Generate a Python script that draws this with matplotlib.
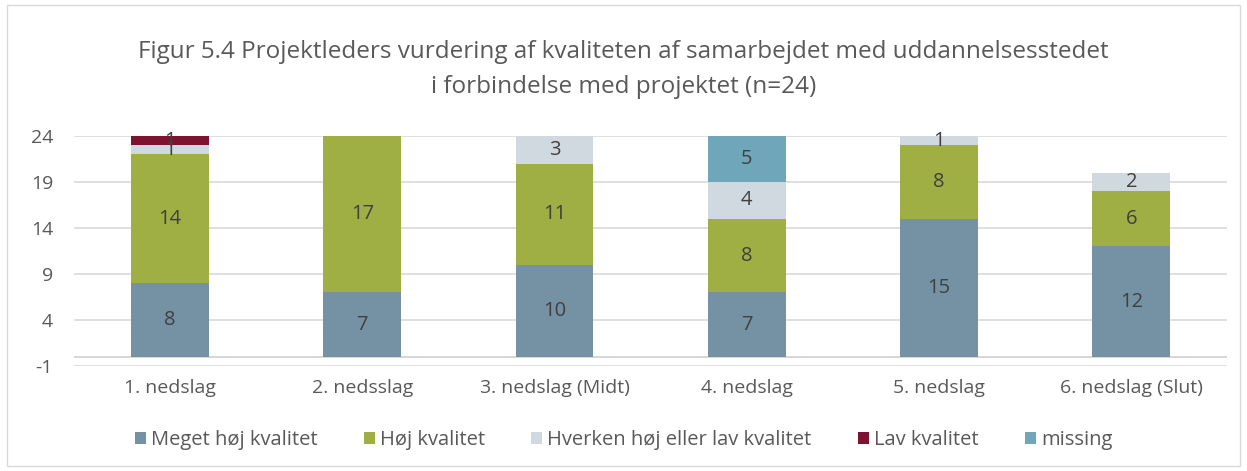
import numpy as np
import matplotlib.pyplot as plt
from matplotlib.patches import Rectangle

plt.rcParams['font.family'] = ['Open Sans', 'DejaVu Sans']
plt.rcParams['axes.unicode_minus'] = False

# --- data ---
categories = ["1. nedslag", "2. nedsslag", "3. nedslag (Midt)", "4. nedslag",
              "5. nedslag", "6. nedslag (Slut)"]
meget_hoej = [8, 7, 10, 7, 15, 12]
hoej = [14, 17, 11, 8, 8, 6]
hverken = [1, 0, 3, 4, 1, 2]
lav = [1, 0, 0, 0, 0, 0]
missing = [0, 0, 0, 5, 0, 0]

series = [
    ("Meget høj kvalitet", meget_hoej, "#7591A4"),
    ("Høj kvalitet", hoej, "#9FAF43"),
    ("Hverken høj eller lav kvalitet", hverken, "#D0D9E0"),
    ("Lav kvalitet", lav, "#7E1331"),
    ("missing", missing, "#6FA6BA"),
]
yticks = [-1, 4, 9, 14, 19, 24]

fig = plt.figure(figsize=(12.47, 4.71), dpi=100)
ax = fig.add_axes([0.0593, 0.2229, 0.925, 0.4883])

# chart border
fig.patches.append(Rectangle((0.006, 0.01), 0.988, 0.98, transform=fig.transFigure,
                             fill=False, edgecolor="#D9D9D9", linewidth=1))

x = np.arange(len(categories))
bottom = np.zeros(len(categories))
txt_color = "#404040"
for name, vals, col in series:
    vals = np.array(vals)
    ax.bar(x, vals, 0.405, bottom=bottom, color=col, label=name, zorder=3)
    for xi, v, b in zip(x, vals, bottom):
        if v > 0:
            ax.text(xi, b + v / 2, str(v), ha="center", va="center",
                    fontsize=14.5, color=txt_color, zorder=4)
    bottom += vals

ax.set_xlim(-0.5, len(categories) - 0.5)
ax.set_ylim(-1, 24)
ax.set_yticks(yticks)
ax.yaxis.grid(True, color="#D9D9D9", linewidth=1.2, zorder=0)
ax.axhline(0, color="#D0D0D0", linewidth=1.2, zorder=2)
for s in ax.spines.values():
    s.set_visible(False)
ax.tick_params(length=0, labelsize=14, labelcolor="#595959")
ax.tick_params(axis="y", pad=15)
ax.tick_params(axis="x", pad=9)
ax.set_xticks(x)
ax.set_xticklabels(categories)

fig.text(0.5, 0.853, "Figur 5.4 Projektleders vurdering af kvaliteten af samarbejdet med uddannelsesstedet\n"
         "i forbindelse med projektet (n=24)", ha="center", va="center",
         fontsize=17.5, color="#595959", linespacing=1.6)

fig.legend(loc="center", bbox_to_anchor=(0.5, 0.066), ncol=5, frameon=False,
           fontsize=14.5, labelcolor="#595959", handlelength=0.55, handleheight=0.55,
           handletextpad=0.25, columnspacing=2.3)

fig.savefig("out.png", dpi=100)
